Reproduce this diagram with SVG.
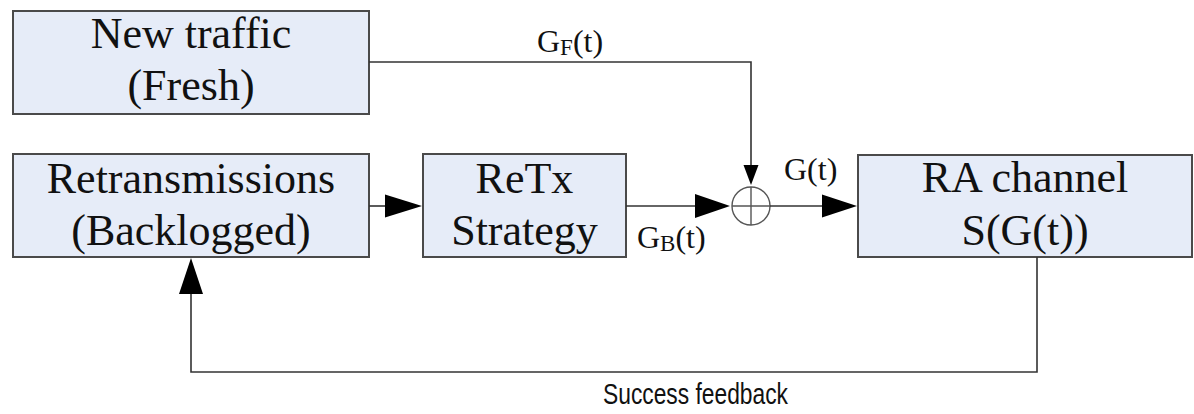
<svg xmlns="http://www.w3.org/2000/svg" width="1194" height="414" viewBox="0 0 1194 414">
  <style>
    .box { fill: #e6ecf8; stroke: #4a4a4a; stroke-width: 2; }
    .lbl { font-family: "Liberation Serif", "Times New Roman", serif; font-size: 44px; fill: #111; text-anchor: middle; }
    .sig { font-family: "Liberation Serif", "Times New Roman", serif; font-size: 32px; fill: #111; }
    .sub { font-size: 23px; }
    .wire { fill: none; stroke: #333; stroke-width: 1.6; }
    .head { fill: #000; }
    .note { font-family: "Liberation Sans", Arial, sans-serif; font-size: 30px; fill: #111; }
  </style>

  <g id="fresh">
    <rect class="box" x="13" y="11" width="356" height="103"/>
    <text class="lbl" x="191" y="48">New traffic</text>
    <text class="lbl" x="191" y="100">(Fresh)</text>
  </g>

  <g id="backlogged">
    <rect class="box" x="13" y="154" width="356" height="103"/>
    <text class="lbl" x="191" y="193">Retransmissions</text>
    <text class="lbl" x="191" y="245">(Backlogged)</text>
  </g>

  <g id="retx">
    <rect class="box" x="423" y="154" width="203" height="103"/>
    <text class="lbl" x="524.5" y="193">ReTx</text>
    <text class="lbl" x="524.5" y="245">Strategy</text>
  </g>

  <g id="channel">
    <rect class="box" x="858" y="155" width="334" height="102"/>
    <text class="lbl" x="1025" y="192">RA channel</text>
    <text class="lbl" x="1025" y="245">S(G(t))</text>
  </g>

  <g id="sum">
    <circle cx="751" cy="206" r="19" fill="none" stroke="#555" stroke-width="1.4"/>
    <path d="M732 206 H770 M751 187 V225" stroke="#555" stroke-width="1.4"/>
  </g>

  <g id="connectors">
    <!-- fresh traffic into the adder -->
    <path class="wire" d="M369 62 H751 V166"/>
    <polygon class="head" points="743.5,165 758.5,165 751,185"/>
    <!-- backlog to strategy -->
    <path class="wire" d="M369 206 H386"/>
    <polygon class="head" points="385,194.5 385,217.5 422,206"/>
    <!-- strategy to adder -->
    <path class="wire" d="M626 206 H696"/>
    <polygon class="head" points="695,194 695,218 730,206"/>
    <!-- adder to channel -->
    <path class="wire" d="M770 206 H823"/>
    <polygon class="head" points="822,194.5 822,217.5 857,206"/>
    <!-- success feedback loop -->
    <path class="wire" d="M1037 257 V372 H191 V293"/>
    <polygon class="head" points="179,294 203,294 191,258"/>
  </g>

  <g id="labels">
    <text class="sig" x="537" y="52">G<tspan class="sub" dy="3">F</tspan><tspan dy="-3">(t)</tspan></text>
    <text class="sig" x="784" y="180">G(t)</text>
    <text class="sig" x="637" y="248">G<tspan class="sub" dy="3">B</tspan><tspan dy="-3">(t)</tspan></text>
    <text class="note" x="603" y="404" textLength="185" lengthAdjust="spacingAndGlyphs">Success feedback</text>
  </g>
</svg>
